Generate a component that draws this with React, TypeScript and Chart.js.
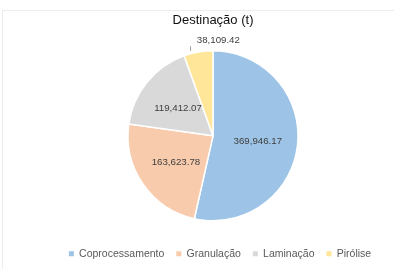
import React, { useEffect, useRef } from "react";
import { Chart, registerables } from "chart.js";

Chart.register(...registerables);

const categories = ["Coprocessamento", "Granulação", "Laminação", "Pirólise"];
const values = [369946.17, 163623.78, 119412.07, 38109.42];
const valueLabels = ["369,946.17", "163,623.78", "119,412.07", "38,109.42"];
const colors = ["#9DC3E6", "#F8CBAD", "#D9D9D9", "#FFE699"];
const titleText = "Destinação (t)";
const outsideIndex = 3;

const FONT = "'Liberation Sans', Arial, sans-serif";

const labelPlugin = {
  id: "sliceLabels",
  afterLayout(chart: any) {
    const lg = chart.legend;
    if (lg) {
      lg.left += 7;
      lg.right += 7;
    }
  },
  afterDatasetsDraw(chart: any) {
    const ctx = chart.ctx;
    const meta = chart.getDatasetMeta(0);
    ctx.save();
    ctx.font = `9.7px ${FONT}`;
    ctx.fillStyle = "#404040";
    ctx.textAlign = "center";
    ctx.textBaseline = "middle";
    meta.data.forEach((arc: any, i: number) => {
      const { x, y, startAngle, endAngle, outerRadius } = arc.getProps(
        ["x", "y", "startAngle", "endAngle", "outerRadius"],
        true
      );
      const mid = (startAngle + endAngle) / 2;
      if (i === outsideIndex) {
        const ex = x + Math.cos(mid) * outerRadius;
        const ey = y + Math.sin(mid) * outerRadius;
        ctx.strokeStyle = "#A6A6A6";
        ctx.lineWidth = 1;
        ctx.beginPath();
        ctx.moveTo(Math.round(ex) - 7.5, ey - 1);
        ctx.lineTo(Math.round(ex) - 7.5, ey - 6);
        ctx.stroke();
        ctx.fillText(valueLabels[i], ex + 20, ey - 12);
      } else {
        const r = outerRadius * 0.53;
        ctx.fillText(valueLabels[i], x + Math.cos(mid) * r, y + Math.sin(mid) * r + 1);
      }
    });
    ctx.restore();
  },
};

export default function App() {
  const ref = useRef<HTMLCanvasElement | null>(null);
  useEffect(() => {
    if (!ref.current) return;
    const chart = new Chart(ref.current, {
      type: "pie",
      data: {
        labels: categories,
        datasets: [
          {
            data: values,
            backgroundColor: colors,
            borderColor: "#ffffff",
            borderWidth: 1.5,
            radius: 85,
          },
        ],
      },
      options: {
        animation: false,
        responsive: true,
        maintainAspectRatio: false,
        layout: { padding: { left: 32, right: 0, top: 0, bottom: 0 } },
        plugins: {
          title: {
            display: true,
            text: titleText,
            color: "#111111",
            font: { family: FONT, size: 13, weight: "normal" },
            padding: { top: 13, bottom: 6.5 },
          },
          legend: {
            position: "bottom",
            labels: {
              boxWidth: 5,
              boxHeight: 5,
              padding: 12,
              color: "#595959",
              font: { family: FONT, size: 10.5 },
              generateLabels(chart: any) {
                const items = Chart.overrides.pie.plugins.legend.labels.generateLabels(chart);
                return items.map((it: any) => ({ ...it, lineWidth: 0, strokeStyle: it.fillStyle }));
              },
            },
          },
          tooltip: { enabled: false },
        },
      },
      plugins: [labelPlugin],
    });
    return () => chart.destroy();
  }, []);
  return (
    <div style={{ position: "fixed", left: 0, top: 0, width: 394, height: 269, background: "#fff" }}>
      <div
        style={{
          position: "absolute",
          left: 2,
          top: 10,
          width: 400,
          height: 300,
          borderTop: "1px solid #ececec",
          borderLeft: "1px solid #ececec",
        }}
      />
      <div style={{ position: "absolute", left: 0, top: 0, width: 394, height: 269 }}>
        <canvas ref={ref} />
      </div>
    </div>
  );
}
